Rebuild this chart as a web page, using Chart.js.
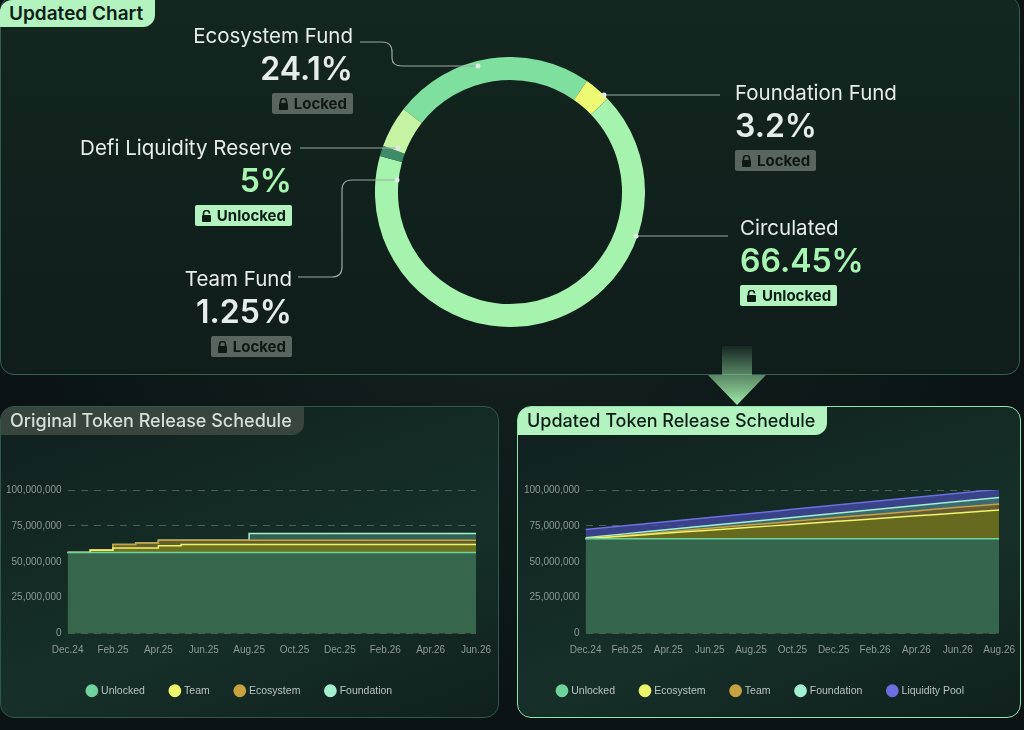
<!DOCTYPE html>
<html>
<head>
<meta charset="utf-8">
<script src="https://cdn.jsdelivr.net/npm/chart.js@4.4.1/dist/chart.umd.min.js"></script>
<style>
  html, body { margin: 0; padding: 0; }
  body {
    width: 1024px; height: 730px; overflow: hidden; position: relative;
    background: radial-gradient(ellipse at 50% 40%, #13221f 0%, #0b1314 70%);
    font-family: Inter, "Noto Sans", sans-serif;
  }
  .panel { position: absolute; box-sizing: border-box; border-radius: 14px; }
  #top { left: 0; top: -4px; width: 1020px; height: 379px; border: 1.5px solid #335f52;
    background: linear-gradient(180deg, #13261f 0%, #0f1d1b 100%); }
  #bl { left: 0; top: 406px; width: 499px; height: 312px; border: 1.5px solid #2e5a4c;
    background: linear-gradient(160deg, #10201e 0%, #163029 60%, #10201d 100%); }
  #br { left: 517px; top: 406px; width: 504px; height: 312px; border: 1.5px solid #8fe3ad;
    background: linear-gradient(160deg, #10201e 0%, #163029 60%, #10201d 100%); }
  .tab { position: absolute; left: 0; top: 0; height: 28px; line-height: 28px; padding: 0 12px 0 9px;
    font-size: 18px; font-weight: 500; border-radius: 12px 0 12px 0; }
  .light { background: #b3f3c0; color: #0c1d16; }
  .dark { background: #38453f; color: #d3dfd8; }
  .lbl { position: absolute; color: #e6ece9; }
  .lbl .t { font-size: 20.5px; line-height: 22px; }
  .lbl .p { font-size: 32px; line-height: 36px; font-weight: 600; margin-top: 4px; }
  .lbl .p.g { color: #a6f5b0; }
  .badge { display: inline-block; margin-top: 6px; height: 21px; line-height: 21px; padding: 0 6px;
    font-size: 15px; font-weight: 700; border-radius: 2px; }
  .badge.lk { background: #59665f; color: #101814; }
  .badge.ul { background: #b3f3c0; color: #0c1d16; }
  .badge svg { vertical-align: -1px; margin-right: 5px; }
  .r { text-align: right; }
  .cw { position: absolute; }
</style>
</head>
<body>
<div class="panel" id="top"></div>
<div class="tab light" style="top:0;font-size:19px;font-weight:600;height:27px;line-height:27px;">Updated Chart</div>

<div class="cw" style="left:375px;top:57px;width:270px;height:270px;"><canvas id="donut"></canvas></div>

<svg width="1024" height="730" style="position:absolute;left:0;top:0;pointer-events:none">
  <defs>
    <linearGradient id="ag" x1="0" y1="0" x2="0" y2="1">
      <stop offset="0" stop-color="#a6f5b0" stop-opacity="0.05"/>
      <stop offset="1" stop-color="#a6f5b0" stop-opacity="0.95"/>
    </linearGradient>
  </defs>
  <g fill="none" stroke="#9aa8a2" stroke-width="1.2">
    <path d="M360 42 H382 Q392 42 392 52 V58 Q392 66 402 66 H478"/>
    <path d="M604 95 H720"/>
    <path d="M300 148 H398"/>
    <path d="M298 277 H332 Q342 277 342 267 V190 Q342 180 352 180 H397"/>
    <path d="M636 236 H728"/>
  </g>
  <g fill="#dfe8e3">
    <circle cx="478" cy="66" r="2.5"/><circle cx="604" cy="95" r="2.5"/>
    <circle cx="398" cy="148" r="2.5"/><circle cx="397" cy="180" r="2.5"/>
    <circle cx="636" cy="236" r="2.5"/>
  </g>
  <polygon points="722,346 752,346 752,375 766,375 737,405 708,375 722,375" fill="url(#ag)"/>
</svg>

<div class="lbl r" style="right:671px;top:25px"><div class="t">Ecosystem Fund</div><div class="p">24.1%</div>
  <span class="badge lk"><svg width="11" height="12" viewBox="0 0 11 12"><path d="M2.5 5V3.5a3 3 0 0 1 6 0V5" stroke="#101814" stroke-width="1.6" fill="none"/><rect x="1" y="5" width="9" height="7" rx="1" fill="#101814"/></svg>Locked</span></div>
<div class="lbl r" style="right:732px;top:137px"><div class="t">Defi Liquidity Reserve</div><div class="p g">5%</div>
  <span class="badge ul"><svg width="11" height="12" viewBox="0 0 11 12"><path d="M2.5 5V3.5a3 3 0 0 1 6 0" stroke="#0c1d16" stroke-width="1.6" fill="none"/><rect x="1" y="5" width="9" height="7" rx="1" fill="#0c1d16"/></svg>Unlocked</span></div>
<div class="lbl r" style="right:732px;top:268px"><div class="t">Team Fund</div><div class="p">1.25%</div>
  <span class="badge lk"><svg width="11" height="12" viewBox="0 0 11 12"><path d="M2.5 5V3.5a3 3 0 0 1 6 0V5" stroke="#101814" stroke-width="1.6" fill="none"/><rect x="1" y="5" width="9" height="7" rx="1" fill="#101814"/></svg>Locked</span></div>
<div class="lbl" style="left:735px;top:82px"><div class="t">Foundation Fund</div><div class="p">3.2%</div>
  <span class="badge lk"><svg width="11" height="12" viewBox="0 0 11 12"><path d="M2.5 5V3.5a3 3 0 0 1 6 0V5" stroke="#101814" stroke-width="1.6" fill="none"/><rect x="1" y="5" width="9" height="7" rx="1" fill="#101814"/></svg>Locked</span></div>
<div class="lbl" style="left:740px;top:217px"><div class="t">Circulated</div><div class="p g">66.45%</div>
  <span class="badge ul"><svg width="11" height="12" viewBox="0 0 11 12"><path d="M2.5 5V3.5a3 3 0 0 1 6 0" stroke="#0c1d16" stroke-width="1.6" fill="none"/><rect x="1" y="5" width="9" height="7" rx="1" fill="#0c1d16"/></svg>Unlocked</span></div>

<div class="panel" id="bl"><div class="tab dark">Original Token Release Schedule</div></div>
<div class="panel" id="br"><div class="tab light">Updated Token Release Schedule</div></div>
<div class="cw" style="left:0px;top:478px;width:494px;height:228px;"><canvas id="orig"></canvas></div>
<div class="cw" style="left:518px;top:478px;width:500px;height:228px;"><canvas id="upd"></canvas></div>

<script>
// Allocation (percent)
const allocLabels = ['Ecosystem Fund', 'Foundation Fund', 'Circulated', 'Team Fund', 'Defi Liquidity Reserve'];
const allocValues = [24.1, 3.2, 66.45, 1.25, 5];
const allocColors = ['#7fdf9f', '#eefa72', '#a6f3ad', '#3e8b69', '#c3f3a3'];

// Original schedule, stacked increments in millions, Dec.24 .. Jun.26
const origMonths = ['Dec.24','Jan.25','Feb.25','Mar.25','Apr.25','May.25','Jun.25','Jul.25','Aug.25','Sep.25',
  'Oct.25','Nov.25','Dec.25','Jan.26','Feb.26','Mar.26','Apr.26','May.26','Jun.26'];
const origUnlocked   = [56.5,56.5,56.5,56.5,56.5,56.5,56.5,56.5,56.5,56.5,56.5,56.5,56.5,56.5,56.5,56.5,56.5,56.5,56.5];
const origTeam       = [0,1.5,3,3,4.6,5.6,5.6,5.6,5.6,5.6,5.6,5.6,5.6,5.6,5.6,5.6,5.6,5.6,5.6];
const origEcosystem  = [0,0.3,2.5,3.5,3.8,2.8,2.8,2.8,2.8,2.8,2.8,2.8,2.8,2.8,2.8,2.8,2.8,2.8,2.8];
const origFoundation = [0,0,0,0,0,0,0,0,4.8,4.8,4.8,4.8,4.8,4.8,4.8,4.8,4.8,4.8,4.8];

// Updated schedule, stacked increments in millions, Dec.24 .. Aug.26
const updMonths = ['Dec.24','Jan.25','Feb.25','Mar.25','Apr.25','May.25','Jun.25','Jul.25','Aug.25','Sep.25',
  'Oct.25','Nov.25','Dec.25','Jan.26','Feb.26','Mar.26','Apr.26','May.26','Jun.26','Jul.26','Aug.26'];
const updUnlocked   = [66,66,66,66,66,66,66,66,66,66,66,66,66,66,66,66,66,66,66,66,66];
const updEcosystem  = [0,1,2,3,4,5,6,7,8,9,10,11,12,13,14,15,16,17,18,19,20];
const updTeam       = [0,0.2,0.4,0.6,0.9,1.1,1.3,1.5,1.7,1.9,2.2,2.4,2.6,2.8,3.0,3.2,3.4,3.7,3.9,4.1,4.3];
const updFoundation = [0.8,1.0,1.2,1.4,1.5,1.7,1.9,2.1,2.3,2.5,2.7,2.8,3.0,3.2,3.4,3.6,3.8,3.9,4.1,4.3,4.5];
const updLiquidity  = [5.7,5.7,5.7,5.7,5.7,5.7,5.7,5.7,5.7,5.7,5.7,5.7,5.7,5.7,5.7,5.7,5.7,5.7,5.7,5.7,5.7];

const yTicks = [0, 25000000, 50000000, 75000000, 100000000];

new Chart(document.getElementById('donut'), {
  type: 'doughnut',
  data: { labels: allocLabels, datasets: [{ data: allocValues, backgroundColor: allocColors, borderWidth: 0 }] },
  options: {
    responsive: true, maintainAspectRatio: false, animation: false,
    cutout: '83%', rotation: -52,
    plugins: { legend: { display: false }, tooltip: { enabled: false } }
  }
});

function series(label, vals, line, fill, stepped) {
  return {
    label, data: vals.map(v => v * 1e6), borderColor: line, backgroundColor: fill,
    pointBackgroundColor: line, fill: true, borderWidth: 1.5, pointRadius: 0, tension: 0, stepped
  };
}

function areaOptions() {
  return {
    responsive: true, maintainAspectRatio: false, animation: false,
    layout: { padding: { top: 8, right: 14 } },
    scales: {
      x: {
        grid: { display: false }, border: { display: false },
        ticks: { color: '#8d9a95', font: { size: 10 }, autoSkip: false, maxRotation: 0,
          callback: function (v, i) { return i % 2 === 0 ? this.getLabelForValue(v) : ''; } }
      },
      y: {
        stacked: true, min: 0, max: 100000000,
        afterBuildTicks: s => { s.ticks = yTicks.map(v => ({ value: v })); },
        grid: { color: 'rgba(150,180,170,0.4)', drawTicks: false },
        border: { display: false, dash: [7, 6] },
        ticks: { color: '#8d9a95', font: { size: 10 }, padding: 6,
          callback: v => v.toLocaleString('en-US') }
      }
    },
    plugins: {
      tooltip: { enabled: false },
      legend: { position: 'bottom',
        labels: { usePointStyle: true, pointStyle: 'circle', boxWidth: 8, boxHeight: 8,
          color: '#b8c4bf', font: { size: 10.5 }, padding: 26 } }
    }
  };
}

new Chart(document.getElementById('orig'), {
  type: 'line',
  data: { labels: origMonths, datasets: [
    series('Unlocked', origUnlocked, '#6fd39c', 'rgba(45,100,85,0.85)', 'before'),
    series('Team', origTeam, '#eef56a', 'rgba(110,120,30,0.75)', 'before'),
    series('Ecosystem', origEcosystem, '#c9a240', 'rgba(120,95,30,0.7)', 'before'),
    series('Foundation', origFoundation, '#a3f0cf', 'rgba(60,115,100,0.75)', 'before')
  ] },
  options: areaOptions()
});

new Chart(document.getElementById('upd'), {
  type: 'line',
  data: { labels: updMonths, datasets: [
    series('Unlocked', updUnlocked, '#6fd39c', 'rgba(45,100,85,0.85)', false),
    series('Ecosystem', updEcosystem, '#eef56a', 'rgba(100,110,25,0.8)', false),
    series('Team', updTeam, '#c9a240', 'rgba(120,90,30,0.75)', false),
    series('Foundation', updFoundation, '#a3f0cf', 'rgba(60,120,105,0.75)', false),
    series('Liquidity Pool', updLiquidity, '#6d6fe0', 'rgba(70,75,170,0.75)', false)
  ] },
  options: areaOptions()
});
</script>
</body>
</html>
